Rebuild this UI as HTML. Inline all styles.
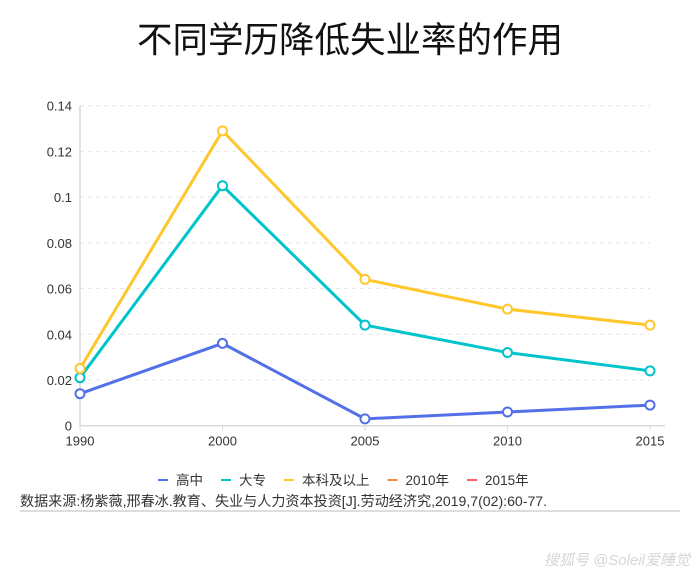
<!DOCTYPE html>
<html><head><meta charset="utf-8"><style>
body{margin:0;width:700px;height:576px;background:#fff;font-family:"Liberation Sans","Noto Sans CJK SC",sans-serif;overflow:hidden;position:relative}
.t{position:absolute;left:0;width:700px;top:12px;text-align:center;font-size:35.5px;color:#111}
.src{position:absolute;left:20px;top:491px;font-size:14.1px;color:#333;white-space:nowrap}
.hr{position:absolute;left:20px;top:510px;width:660px;height:2px;background:#ddd}
.wm{position:absolute;right:10px;top:549px;font-size:15px;color:#d6d6d6;font-style:italic}
</style></head><body>
<div class="t">不同学历降低失业率的作用</div>
<svg id="c" width="700" height="576" style="position:absolute;left:0;top:0"></svg>
<div class="src">数据来源:杨紫薇,邢春冰.教育、失业与人力资本投资[J].劳动经济究,2019,7(02):60-77.</div>
<div class="hr"></div>
<div class="wm">搜狐号 @Soleil爱睡觉</div>
<script>
const categories=["1990","2000","2005","2010","2015"];
const yTicks=[0,0.02,0.04,0.06,0.08,0.1,0.12,0.14];
const yTickLabels=["0","0.02","0.04","0.06","0.08","0.1","0.12","0.14"];
const seriesNames=["高中","大专","本科及以上"];
const seriesHigh=[0.014,0.036,0.003,0.006,0.009];
const seriesCollege=[0.021,0.105,0.044,0.032,0.024];
const seriesBachelor=[0.025,0.129,0.064,0.051,0.044];
const legendNames=["高中","大专","本科及以上","2010年","2015年"];
const legendColors=["#5470e8","#00c4cc","#ffc72c","#ff8a3d","#ff5b5b"];
const NS="http://www.w3.org/2000/svg",svg=document.getElementById('c');
const x0=80,x1=650,y0=425.7,y1=105.7,ymax=0.14;
const X=i=>x0+i*(x1-x0)/(categories.length-1);
const Y=v=>y0-(v/ymax)*(y0-y1);
function mk(t,a){const e=document.createElementNS(NS,t);for(const k in a)e.setAttribute(k,a[k]);svg.appendChild(e);return e;}
yTicks.forEach((v,i)=>{
 if(v>0){const g=mk('line',{x1:x0,x2:x1,y1:Y(v),y2:Y(v),stroke:'#e6e6e6','stroke-dasharray':'4,4'});
 
 }
 const t=mk('text',{x:x0-8,y:Y(v)+5,'text-anchor':'end','font-size':13,fill:'#333'});t.textContent=yTickLabels[i];
 
 
});
const ax=mk('line',{x1:x0,x2:x0,y1:y1,y2:y0,stroke:'#d9d9d9','stroke-width':1.5});


const bx=mk('line',{x1:x0,x2:x1+15,y1:y0,y2:y0,stroke:'#d9d9d9','stroke-width':1.5});


categories.forEach((c,i)=>{
 const tk=mk('line',{x1:X(i),x2:X(i),y1:y0,y2:y0+5,stroke:'#d9d9d9'});
 
 
 const t=mk('text',{x:X(i),y:y0+20,'text-anchor':'middle','font-size':13,fill:'#333'});t.textContent=c;
 
 
});
[[seriesHigh,0],[seriesCollege,1],[seriesBachelor,2]].forEach(([d,k])=>{
 const p=mk('polyline',{points:d.map((v,i)=>X(i)+','+Y(v)).join(' '),fill:'none',stroke:legendColors[k],'stroke-width':3});
 
 
 d.forEach((v,i)=>{const c=mk('circle',{cx:X(i),cy:Y(v),r:4.5,fill:'#fff',stroke:legendColors[k],'stroke-width':2});
 
 });
});
let lx=158;
legendNames.forEach((n,i)=>{
 const g=mk('line',{x1:lx,x2:lx+10,y1:480,y2:480,stroke:legendColors[i],'stroke-width':2});
 
 
 const t=mk('text',{x:lx+18,y:485,'font-size':13.5,fill:'#333'});t.textContent=n;
 
 
 lx+=18+t.getComputedTextLength()+18;
});
</script>
</body></html>
